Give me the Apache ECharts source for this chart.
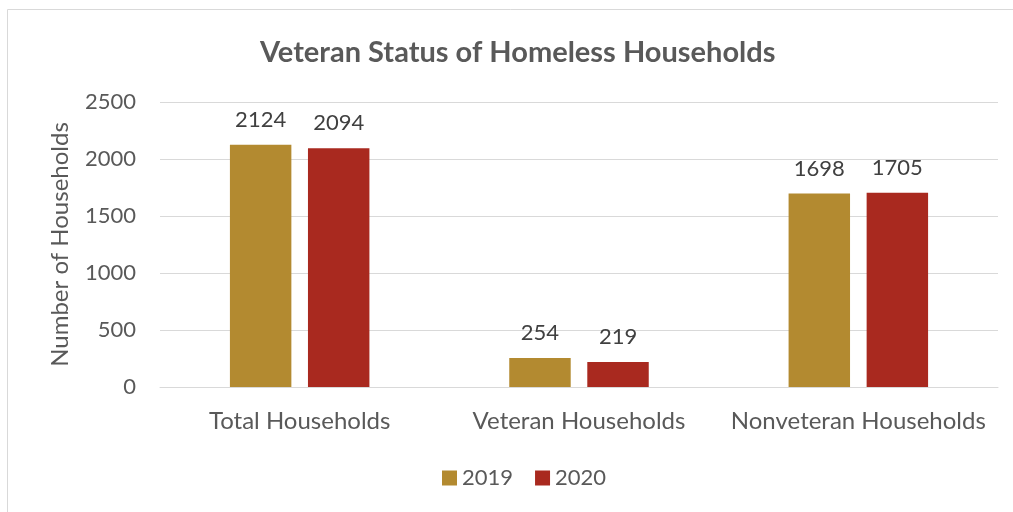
<!DOCTYPE html>
<html><head><meta charset="utf-8">
<script src="https://cdn.jsdelivr.net/npm/echarts@6/dist/echarts.min.js"></script>
<style>html,body{margin:0;padding:0;background:#fff}#c{width:1013px;height:512px}</style>
</head><body><div id="c"></div>
<script>
const categories = ['Total Households', 'Veteran Households', 'Nonveteran Households'];
const values2019 = [2124, 254, 1698];
const values2020 = [2094, 219, 1705];
const seriesNames = ['2019', '2020'];
const yTicks = { min: 0, max: 2500, interval: 500 };

const FONT = 'Lato, "Open Sans", sans-serif';
const chart = echarts.init(document.getElementById('c'));
const labelStyle = { show: true, position: 'top', distance: 14, color: '#404040', fontSize: 22, fontFamily: FONT };
chart.setOption({
  animation: false,
  graphic: [{ type: 'rect', shape: { x: 7.5, y: 9.5, width: 1010, height: 510 }, style: { fill: 'none', stroke: '#d9d9d9', lineWidth: 1 }, z: -1 }],
  title: { text: 'Veteran Status of Homeless Households', left: 255, top: 33,
    textStyle: { color: '#595959', fontSize: 29, fontWeight: 'bold', fontFamily: FONT } },
  legend: { data: seriesNames, bottom: 18, left: 437, icon: 'rect', itemWidth: 15, itemHeight: 15, itemGap: 22,
    textStyle: { color: '#595959', fontSize: 22, fontFamily: FONT } },
  grid: { left: 160, right: 15, top: 102, bottom: 125, containLabel: false },
  xAxis: { type: 'category', data: categories,
    axisLine: { lineStyle: { color: '#d9d9d9', width: 1 } }, axisTick: { show: false },
    axisLabel: { color: '#595959', fontSize: 24, fontFamily: FONT, margin: 22, interval: 0 } },
  yAxis: { type: 'value', min: yTicks.min, max: yTicks.max, interval: yTicks.interval,
    name: 'Number of Households', nameLocation: 'middle', nameGap: 88, nameRotate: 90,
    nameTextStyle: { color: '#595959', fontSize: 24, fontFamily: FONT },
    axisLine: { show: false }, axisTick: { show: false },
    splitLine: { lineStyle: { color: '#d9d9d9', width: 1 } },
    axisLabel: { color: '#595959', fontSize: 22, fontFamily: FONT, margin: 24, formatter: v => String(v) } },
  series: [
    { name: seriesNames[0], type: 'bar', data: values2019, barWidth: '22%', barGap: '27%', itemStyle: { color: '#B38A30' }, label: labelStyle },
    { name: seriesNames[1], type: 'bar', data: values2020, barWidth: '22%', barGap: '27%', itemStyle: { color: '#A9291F' }, label: labelStyle }
  ]
});
</script></body></html>
